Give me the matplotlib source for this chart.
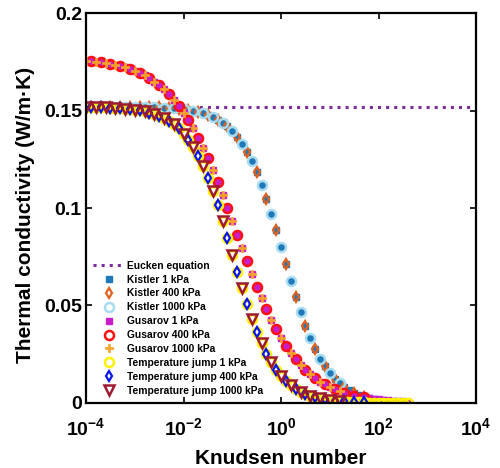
import numpy as np
import matplotlib
matplotlib.use("Agg")
import matplotlib.pyplot as plt
from matplotlib.ticker import FixedLocator, FixedFormatter

plt.rcParams['font.family'] = ['Liberation Sans', 'DejaVu Sans']
plt.rcParams['font.weight'] = 'bold'
plt.rcParams['mathtext.fontset'] = 'custom'
plt.rcParams['mathtext.rm'] = 'Liberation Sans:bold'
plt.rcParams['mathtext.bf'] = 'Liberation Sans:bold'
plt.rcParams['mathtext.default'] = 'bf'

# log10 of Knudsen number at the sampled points
kn_exp = [-4.0, -3.9, -3.8, -3.7, -3.6, -3.5, -3.4, -3.3, -3.2, -3.1,
          -3.0, -2.9, -2.8, -2.7, -2.6, -2.5, -2.4, -2.3, -2.2, -2.1,
          -2.0, -1.9, -1.8, -1.7, -1.6, -1.5, -1.4, -1.3, -1.2, -1.1,
          -1.0, -0.9, -0.8, -0.7, -0.6, -0.5, -0.4, -0.3, -0.2, -0.1,
          0.0, 0.1, 0.2, 0.3, 0.4, 0.5, 0.6, 0.7, 0.8, 0.9,
          1.0, 1.1, 1.2, 1.3, 1.4, 1.5, 1.6, 1.7, 1.8, 1.9,
          2.0, 2.1, 2.2, 2.3, 2.4, 2.5, 2.6]

# thermal conductivity (W/m.K)
k_kistler = [0.1520, 0.1520, 0.1520, 0.1520, 0.1520, 0.1520, 0.1520, 0.1519, 0.1519, 0.1519,
             0.1519, 0.1518, 0.1518, 0.1517, 0.1517, 0.1516, 0.1515, 0.1513, 0.1511, 0.1509,
             0.1506, 0.1503, 0.1499, 0.1493, 0.1486, 0.1478, 0.1467, 0.1454, 0.1438, 0.1419,
             0.1394, 0.1366, 0.1330, 0.1288, 0.1240, 0.1183, 0.1119, 0.1048, 0.0969, 0.0886,
             0.0800, 0.0713, 0.0627, 0.0544, 0.0466, 0.0395, 0.0332, 0.0276, 0.0228, 0.0187,
             0.0152, 0.0123, 0.0100, 0.0080, 0.0065, 0.0052, 0.0041, 0.0033, 0.0026, 0.0021,
             0.0017, 0.0013, 0.0011, 0.0008, 0.0007, 0.0005, 0.0004]

k_gusarov = [0.1756, 0.1753, 0.1750, 0.1747, 0.1743, 0.1739, 0.1734, 0.1728, 0.1721, 0.1713,
             0.1703, 0.1692, 0.1680, 0.1666, 0.1649, 0.1630, 0.1609, 0.1584, 0.1556, 0.1525,
             0.1490, 0.1451, 0.1408, 0.1361, 0.1310, 0.1255, 0.1196, 0.1133, 0.1068, 0.1001,
             0.0932, 0.0863, 0.0794, 0.0726, 0.0660, 0.0597, 0.0537, 0.0480, 0.0427, 0.0378,
             0.0334, 0.0294, 0.0257, 0.0225, 0.0196, 0.0170, 0.0147, 0.0128, 0.0110, 0.0095,
             0.0082, 0.0071, 0.0061, 0.0052, 0.0045, 0.0038, 0.0033, 0.0028, 0.0024, 0.0021,
             0.0018, 0.0015, 0.0013, 0.0011, 0.0010, 0.0008, 0.0007]

k_tjump = [0.1518, 0.1518, 0.1518, 0.1517, 0.1516, 0.1515, 0.1514, 0.1512, 0.1510, 0.1508,
           0.1505, 0.1501, 0.1496, 0.1490, 0.1483, 0.1473, 0.1462, 0.1447, 0.1430, 0.1408,
           0.1382, 0.1350, 0.1312, 0.1267, 0.1215, 0.1155, 0.1087, 0.1013, 0.0932, 0.0847,
           0.0760, 0.0673, 0.0588, 0.0508, 0.0433, 0.0365, 0.0305, 0.0253, 0.0208, 0.0169,
           0.0138, 0.0112, 0.0090, 0.0073, 0.0058, 0.0047, 0.0037, 0.0030, 0.0024, 0.0019,
           0.0015, 0.0012, 0.0010, 0.0008, 0.0006, 0.0005, 0.0004, 0.0003, 0.0002, 0.0002,
           0.0002, 0.0001, 0.0001, 0.0001, 0.0001, 0.0000, 0.0000]

k_eucken = 0.152

# sample range (start, stop, step) shown for each pressure
pressure_rows = {'1 kPa': (0, 67, 1), '400 kPa': (1, 58, 2), '1000 kPa': (0, 54, 2)}

kn = 10.0 ** np.array(kn_exp)

fig = plt.figure(figsize=(5.0, 4.68), dpi=100)
ax = fig.add_axes([0.172, 0.139, 0.78, 0.833])

ax.axhline(k_eucken, color='#7B2C9E', ls=':', lw=2.2, label='Eucken equation')

series = [
    ('Kistler 1 kPa', k_kistler, '1 kPa', dict(marker='s', color='#1F78B8', ms=4.5, mfc='#1F78B8')),
    ('Kistler 400 kPa', k_kistler, '400 kPa', dict(marker='d', color='#E0601E', ms=5.5, mfc='none', mew=1.6)),
    ('Kistler 1000 kPa', k_kistler, '1000 kPa', dict(marker='o', color='#A8DCF0', ms=6.5, mfc='none', mew=1.8)),
    ('Gusarov 1 kPa', k_gusarov, '1 kPa', dict(marker='s', color='#C81EC8', ms=4.5, mfc='#C81EC8')),
    ('Gusarov 400 kPa', k_gusarov, '400 kPa', dict(marker='o', color='#FF1010', ms=6.5, mfc='none', mew=1.8)),
    ('Gusarov 1000 kPa', k_gusarov, '1000 kPa', dict(marker='P', color='#F5A42A', ms=6, mfc='#F5A42A', mew=0.5)),
    ('Temperature jump 1 kPa', k_tjump, '1 kPa', dict(marker='o', color='#FFF200', ms=6.5, mfc='none', mew=1.8)),
    ('Temperature jump 400 kPa', k_tjump, '400 kPa', dict(marker='d', color='#0A14F0', ms=5.5, mfc='none', mew=1.6)),
    ('Temperature jump 1000 kPa', k_tjump, '1000 kPa', dict(marker='v', color='#9E1A30', ms=6.5, mfc='none', mew=1.8)),
]

for name, vals, p, style in series:
    i0, i1, st = pressure_rows[p]
    ax.plot(kn[i0:i1:st], np.array(vals)[i0:i1:st], ls='none', label=name, **style)

ax.set_xscale('log')
ax.set_xlim(1e-4, 1e4)
ax.set_ylim(0, 0.2)
ax.xaxis.set_major_locator(FixedLocator([1e-4, 1e-2, 1e0, 1e2, 1e4]))
ax.xaxis.set_major_formatter(FixedFormatter([r'$10^{-4}$', r'$10^{-2}$', r'$10^{0}$', r'$10^{2}$', r'$10^{4}$']))
ax.xaxis.set_minor_locator(FixedLocator([]))
ax.set_yticks([0, 0.05, 0.1, 0.15, 0.2])
ax.set_yticklabels(['0', '0.05', '0.1', '0.15', '0.2'])

ax.tick_params(axis='both', which='major', direction='in', top=True, right=True,
               length=4, width=1.2, labelsize=14)
ax.tick_params(axis='x', pad=10)
ax.tick_params(axis='y', pad=3)
for s in ax.spines.values():
    s.set_linewidth(1.6)

ax.set_xlabel('Knudsen number', fontsize=15, fontweight='bold')
ax.set_ylabel('Thermal conductivity (W/m\u00b7K)', fontsize=15, fontweight='bold')
ax.xaxis.set_label_coords(0.5, -0.118)
ax.yaxis.set_label_coords(-0.132, 0.482)

leg = ax.legend(loc='lower left', bbox_to_anchor=(0.0, 0.0), frameon=False, fontsize=7.4,
                handlelength=3.0, handletextpad=0.3, labelspacing=0.38, borderaxespad=0.5,
                borderpad=0.2)

fig.savefig('out.png', dpi=100)
